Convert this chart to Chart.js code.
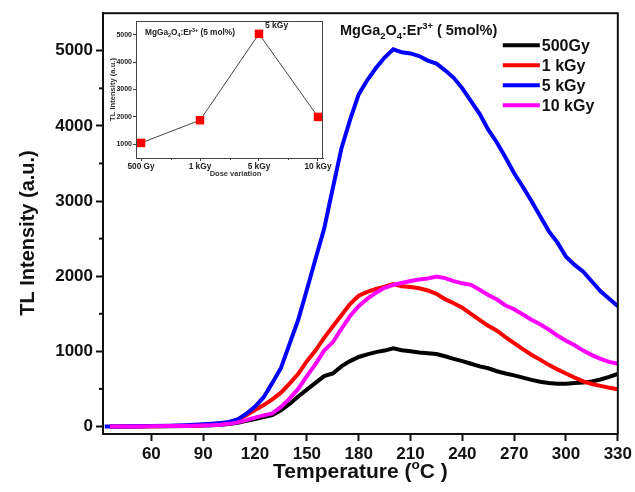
<!DOCTYPE html>
<html>
<head>
<meta charset="utf-8">
<script src="https://cdn.jsdelivr.net/npm/chart.js@4.4.1/dist/chart.umd.min.js"></script>
<style>
  body { margin: 0; background: #fff; }
  #wrap { position: relative; width: 635px; height: 492px; }
  #main { position: absolute; left: 0; top: 0; }
  #inset { position: absolute; left: 104px; top: 13px; }
</style>
</head>
<body>
<div id="wrap">
  <canvas id="main" width="635" height="492"></canvas>
  <canvas id="inset" width="231" height="169"></canvas>
</div>
<script>
// glow curves, TL intensity (a.u.) vs temperature (C)
const temps = [33, 36, 40, 50, 60, 70, 80, 90, 95, 100, 105, 110, 115, 120, 125, 130, 135, 140, 145, 150,
  155, 160, 165, 170, 175, 180, 185, 190, 195, 200, 205, 210, 215, 220, 225, 230, 235, 240, 245, 250,
  255, 260, 265, 270, 275, 280, 285, 290, 295, 300, 305, 310, 315, 320, 325, 330];

const tl500Gy = [null, 0, 0, 1, 2, 4, 7, 12, 16, 22, 32, 50, 75, 100, 125, 150, 215, 300, 400, 490,
  580, 670, 705, 800, 870, 925, 960, 990, 1010, 1040, 1015, 1000, 985, 975, 965, 935, 900, 870, 835, 800,
  775, 735, 705, 680, 650, 620, 595, 580, 568, 570, 578, 585, 600, 625, 660, 700];

const tl1kGy = [null, 0, 0, 1, 3, 6, 10, 18, 24, 35, 55, 95, 150, 220, 285, 360, 450, 570, 700, 870,
  1010, 1180, 1330, 1480, 1630, 1740, 1790, 1830, 1860, 1895, 1865, 1855, 1840, 1810, 1765, 1695, 1640, 1580, 1500, 1420,
  1340, 1275, 1190, 1110, 1030, 955, 890, 820, 760, 705, 650, 600, 565, 540, 515, 495];

const tl5kGy = [0, 0, 0, 2, 5, 10, 18, 30, 38, 48, 60, 95, 170, 265, 390, 580, 780, 1100, 1420, 1820,
  2230, 2630, 3170, 3700, 4080, 4420, 4610, 4770, 4910, 5020, 4980, 4965, 4930, 4870, 4830, 4740, 4640, 4500, 4330, 4160,
  3950, 3780, 3580, 3370, 3190, 3000, 2800, 2600, 2450, 2260, 2150, 2060, 1930, 1800, 1700, 1600];

const tl10kGy = [null, 0, 0, 1, 3, 5, 8, 14, 18, 24, 35, 55, 85, 118, 148, 175, 260, 370, 500, 670,
  830, 1010, 1120, 1300, 1470, 1600, 1700, 1780, 1845, 1885, 1910, 1935, 1955, 1970, 1995, 1975, 1935, 1905, 1885, 1820,
  1750, 1690, 1610, 1560, 1490, 1420, 1360, 1290, 1210, 1140, 1080, 1010, 950, 900, 860, 835];

const seriesLabels = ['500Gy', '1 kGy', '5 kGy', '10 kGy'];
const seriesColors = ['#000000', '#ff0000', '#0000ff', '#ff00ff'];

const xTicks = [60, 90, 120, 150, 180, 210, 240, 270, 300, 330];
const yTicks = [0, 1000, 2000, 3000, 4000, 5000];
const yMinorTicks = [500, 1500, 2500, 3500, 4500];

// inset: peak intensity per dose
const doseLabels = ['500 Gy', '1 kGy', '5 kGy', '10 kGy'];
const doseIntensity = [1050, 1880, 5030, 2000];
const insetYTicks = [1000, 2000, 3000, 4000, 5000];

const FONT = '"Liberation Sans", Arial, sans-serif';
const INK = '#111111';

// draws text made of [string, 'sub'|'sup'|undefined] pieces
function drawRich(ctx, parts, x, y, size, align) {
  const small = size * 0.65;
  const fontFor = p => 'bold ' + (p[1] ? small : size) + 'px ' + FONT;
  let total = 0;
  parts.forEach(p => { ctx.font = fontFor(p); total += ctx.measureText(p[0]).width; });
  let cx = align === 'center' ? x - total / 2 : x;
  ctx.textAlign = 'left';
  ctx.textBaseline = 'alphabetic';
  parts.forEach(p => {
    ctx.font = fontFor(p);
    let dy = 0;
    if (p[1] === 'sub') dy = size * 0.28;
    if (p[1] === 'sup') dy = -size * 0.42;
    ctx.fillText(p[0], cx, y + dy);
    cx += ctx.measureText(p[0]).width;
  });
}

function toPoints(values) {
  return temps.map((t, i) => ({ x: t, y: values[i] })).filter(p => p.y !== null);
}

const mainDecor = {
  id: 'mainDecor',
  afterDraw(chart) {
    const { ctx, chartArea: a, scales } = chart;
    ctx.save();
    ctx.strokeStyle = INK;
    ctx.lineWidth = 2;
    ctx.strokeRect(a.left, a.top, a.right - a.left, a.bottom - a.top);

    // minor ticks on the intensity axis
    yMinorTicks.forEach(v => {
      const py = scales.y.getPixelForValue(v);
      ctx.beginPath();
      ctx.moveTo(a.left - 4, py);
      ctx.lineTo(a.left, py);
      ctx.stroke();
    });

    ctx.fillStyle = INK;
    drawRich(ctx, [['MgGa'], ['2', 'sub'], ['O'], ['4', 'sub'], [':Er'], ['3+', 'sup'], [' ( 5mol%)']],
      a.left + 237, a.top + 22, 14.5);

    // legend
    chart.data.datasets.forEach((ds, i) => {
      const ly = a.top + 32 + i * 20;
      ctx.strokeStyle = ds.borderColor;
      ctx.lineWidth = 4;
      ctx.beginPath();
      ctx.moveTo(a.right - 115, ly);
      ctx.lineTo(a.right - 78, ly);
      ctx.stroke();
      ctx.fillStyle = INK;
      ctx.font = 'bold 16px ' + FONT;
      ctx.textAlign = 'left';
      ctx.textBaseline = 'middle';
      ctx.fillText(ds.label, a.right - 76, ly + 1);
    });

    // axis titles
    ctx.fillStyle = INK;
    drawRich(ctx, [['Temperature ('], ['o', 'sup'], ['C )']], (a.left + a.right) / 2, 478, 21, 'center');
    ctx.save();
    ctx.translate(28, 233);
    ctx.rotate(-Math.PI / 2);
    ctx.font = 'bold 20px ' + FONT;
    ctx.textAlign = 'center';
    ctx.textBaseline = 'middle';
    ctx.fillText('TL Intensity (a.u.)', 0, 0);
    ctx.restore();
    ctx.restore();
  }
};

const allSeries = [tl500Gy, tl1kGy, tl5kGy, tl10kGy];

new Chart(document.getElementById('main').getContext('2d'), {
  type: 'line',
  data: {
    datasets: allSeries.map((vals, i) => ({
      label: seriesLabels[i],
      data: toPoints(vals),
      borderColor: seriesColors[i],
      backgroundColor: seriesColors[i],
      borderWidth: 4,
      pointRadius: 0,
      tension: 0,
      order: allSeries.length - i
    }))
  },
  options: {
    responsive: false,
    animation: false,
    layout: { padding: { left: 0, right: 15, top: 12, bottom: 0 } },
    plugins: { legend: { display: false }, tooltip: { enabled: false } },
    scales: {
      x: {
        type: 'linear',
        min: 32,
        max: 330,
        afterBuildTicks: s => { s.ticks = xTicks.map(v => ({ value: v })); },
        afterFit: s => { s.height = 58; },
        grid: { drawOnChartArea: false, tickLength: 7, tickWidth: 2, tickColor: INK },
        border: { width: 2, color: INK },
        ticks: {
          callback: v => String(v),
          font: { family: FONT, size: 17, weight: 'bold' }, color: INK, padding: 3, maxRotation: 0, autoSkip: false
        }
      },
      y: {
        type: 'linear',
        min: -100,
        max: 5500,
        afterBuildTicks: s => { s.ticks = yTicks.map(v => ({ value: v })); },
        afterFit: s => { s.width = 103; },
        grid: { drawOnChartArea: false, tickLength: 7, tickWidth: 2, tickColor: INK },
        border: { width: 2, color: INK },
        ticks: { callback: v => String(v), font: { family: FONT, size: 17, weight: 'bold' }, color: INK, padding: 3 }
      }
    }
  },
  plugins: [mainDecor]
});

const insetDecor = {
  id: 'insetDecor',
  beforeDraw(chart) {
    const { ctx, chartArea: a } = chart;
    ctx.save();
    ctx.fillStyle = '#ffffff';
    ctx.fillRect(a.left, a.top, a.right - a.left, a.bottom - a.top);
    ctx.restore();
  },
  afterDraw(chart) {
    const { ctx, chartArea: a, scales } = chart;
    ctx.save();
    ctx.strokeStyle = '#444444';
    ctx.lineWidth = 1;
    ctx.strokeRect(a.left + 0.5, a.top + 0.5, a.right - a.left - 1, a.bottom - a.top);

    // small ticks between the dose categories
    [0.5, 1.5, 2.5].forEach(v => {
      const px = Math.round(scales.x.getPixelForValue(v)) + 0.5;
      ctx.beginPath();
      ctx.moveTo(px, a.bottom);
      ctx.lineTo(px, a.bottom + 2);
      ctx.stroke();
    });

    ctx.fillStyle = '#222222';
    drawRich(ctx, [['MgGa'], ['2', 'sub'], ['O'], ['4', 'sub'], [':Er'], ['3+', 'sup'], [' (5 mol%)']],
      a.left + 9, a.top + 14, 8.3);

    // label next to the highest point
    const peak = doseIntensity.indexOf(Math.max(...doseIntensity));
    ctx.font = 'bold 8.5px ' + FONT;
    ctx.textAlign = 'left';
    ctx.textBaseline = 'middle';
    ctx.fillText(doseLabels[peak], scales.x.getPixelForValue(peak) + 6, scales.y.getPixelForValue(doseIntensity[peak]) - 8);

    ctx.fillStyle = '#333333';
    ctx.font = 'bold 7.5px ' + FONT;
    ctx.textAlign = 'center';
    ctx.fillText('Dose variation', (a.left + a.right) / 2 + 6, a.bottom + 16);

    ctx.save();
    ctx.translate(9, (a.top + a.bottom) / 2);
    ctx.rotate(-Math.PI / 2);
    ctx.font = 'bold 7.6px ' + FONT;
    ctx.fillText('TL Intensity (a.u.)', 0, 0);
    ctx.restore();
    ctx.restore();
  }
};

new Chart(document.getElementById('inset').getContext('2d'), {
  type: 'line',
  data: {
    datasets: [{
      data: doseIntensity.map((v, i) => ({ x: i, y: v })),
      borderColor: '#444444',
      borderWidth: 1,
      pointStyle: 'rect',
      pointRadius: 6,
      pointBackgroundColor: '#ff0000',
      pointBorderColor: '#ff0000',
      pointBorderWidth: 0,
      tension: 0
    }]
  },
  options: {
    responsive: false,
    animation: false,
    layout: { padding: { left: 0, right: 12, top: 8, bottom: 0 } },
    plugins: { legend: { display: false }, tooltip: { enabled: false } },
    scales: {
      x: {
        type: 'linear',
        min: -0.085,
        max: 3.085,
        afterBuildTicks: s => { s.ticks = doseLabels.map((_, i) => ({ value: i })); },
        afterFit: s => { s.height = 24; },
        grid: { drawOnChartArea: false, tickLength: 3, tickWidth: 1, tickColor: '#444444' },
        border: { width: 1, color: '#444444' },
        ticks: {
          callback: v => doseLabels[v],
          font: { family: FONT, size: 8.3, weight: 'bold' }, color: '#222222', padding: 1, maxRotation: 0, autoSkip: false
        }
      },
      y: {
        type: 'linear',
        min: 500,
        max: 5500,
        afterBuildTicks: s => { s.ticks = insetYTicks.map(v => ({ value: v })); },
        afterFit: s => { s.width = 32; },
        grid: { drawOnChartArea: false, tickLength: 3, tickWidth: 1, tickColor: '#444444' },
        border: { width: 1, color: '#444444' },
        ticks: { callback: v => String(v), font: { family: FONT, size: 7, weight: 'bold' }, color: '#222222', padding: 1 }
      }
    }
  },
  plugins: [insetDecor]
});
</script>
</body>
</html>
